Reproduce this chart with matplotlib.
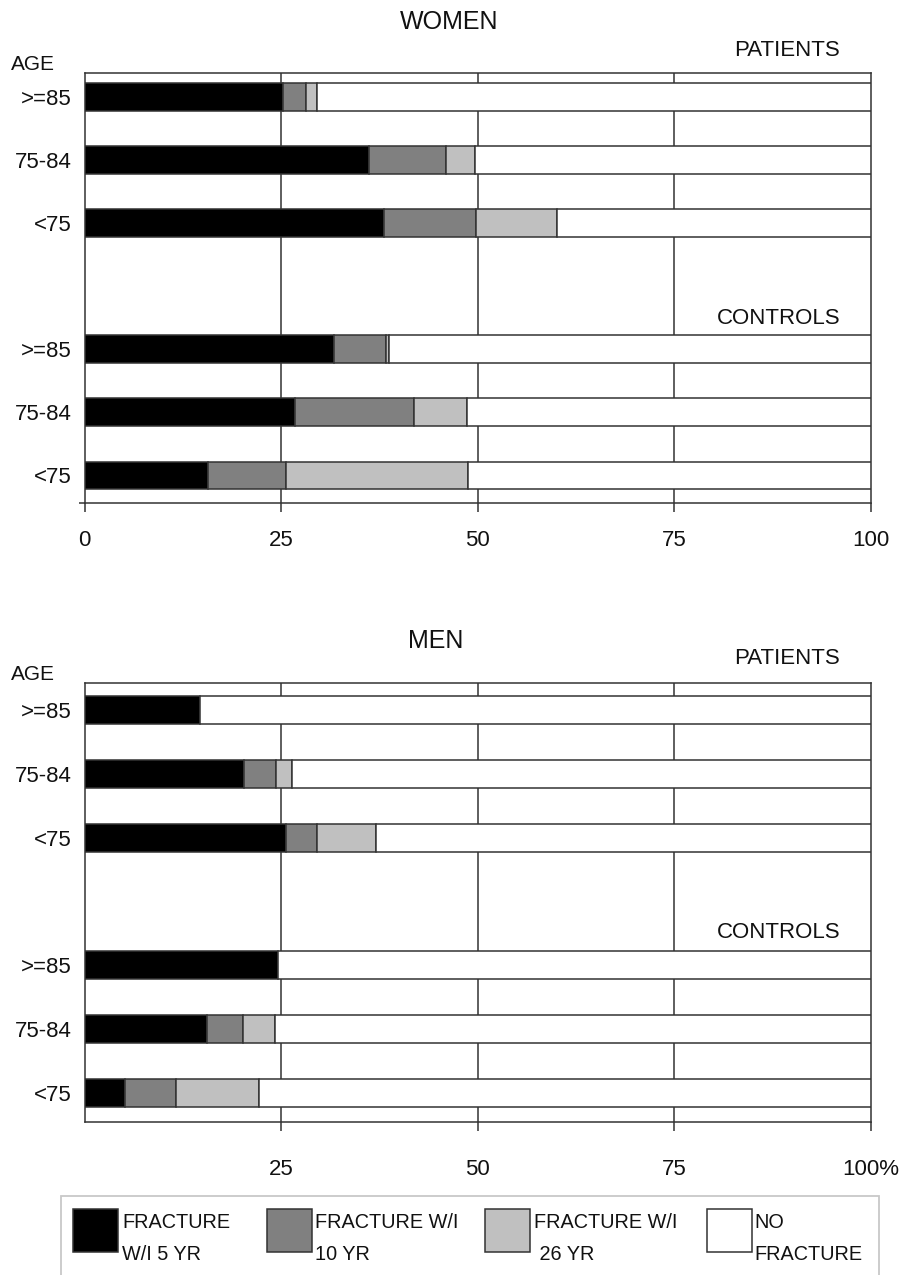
import matplotlib
matplotlib.use("Agg")
import matplotlib.pyplot as plt
from matplotlib.patches import Rectangle

# ---------------- data ----------------
age_groups = [">=85", "75-84", "<75"]
group_names = ["PATIENTS", "CONTROLS"]
series_labels = ["FRACTURE\nW/I 5 YR", "FRACTURE W/I\n10 YR", "FRACTURE W/I\n 26 YR", "NO\nFRACTURE"]
series_colors = ["#000000", "#808080", "#c0c0c0", "#ffffff"]

# order: patients >=85, 75-84, <75, controls >=85, 75-84, <75
women_5yr = [25.2, 36.2, 38.1, 31.7, 26.8, 15.7]
women_10yr = [3.0, 9.8, 11.7, 6.6, 15.1, 9.9]
women_26yr = [1.3, 3.6, 10.3, 0.4, 6.7, 23.2]

men_5yr = [14.7, 20.3, 25.6, 24.6, 15.6, 5.2]
men_10yr = [0.0, 4.0, 4.0, 0.0, 4.6, 6.4]
men_26yr = [0.0, 2.1, 7.4, 0.0, 4.0, 10.6]

women_ticks = [0, 25, 50, 75, 100]
women_ticklabels = ["0", "25", "50", "75", "100"]
men_ticks = [25, 50, 75, 100]
men_ticklabels = ["25", "50", "75", "100%"]

row_pos = [0, 1, 2, 4, 5, 6]

# ---------------- style ----------------
plt.rcParams['font.family'] = ['Liberation Sans', 'DejaVu Sans']
LINE = "#333333"
TXT = "#111111"
W, H = 913, 1275

fig = plt.figure(figsize=(W / 100, H / 100), dpi=100)


def fx(px):
    return px / W


def fy(py):
    return 1 - py / H


def make_axes(top, bottom, ylim):
    ax = fig.add_axes([fx(84.5), fy(bottom), fx(871) - fx(84.5), fy(top) - fy(bottom)])
    ax.set_xlim(0, 100)
    ax.set_ylim(*ylim)
    for s in ax.spines.values():
        s.set_color(LINE)
        s.set_linewidth(1.1)
    return ax


def draw(ax, s5, s10, s26):
    rows = list(zip(s5, s10, s26))
    for i, (a, b, c) in enumerate(rows):
        segs = [a, b, c, 100 - a - b - c]
        left = 0
        for v, col in zip(segs, series_colors):
            if v > 0:
                ax.barh(row_pos[i], v, left=left, height=0.44, color=col,
                        edgecolor=LINE, linewidth=1.1, zorder=3)
            left += v
    for v in [25, 50, 75]:
        ax.axvline(v, color=LINE, lw=1.1, zorder=1)
    ax.set_yticks(row_pos)
    ax.set_yticklabels(age_groups * 2)
    ax.tick_params(axis='y', length=0, pad=9.5, labelsize=16, labelcolor=TXT)


# Women
ax_w = make_axes(73, 503, (6.436, -0.375))
draw(ax_w, women_5yr, women_10yr, women_26yr)
ax_w.set_xticks(women_ticks)
ax_w.set_xticklabels(women_ticklabels)
ax_w.tick_params(axis='x', direction='out', length=6.5, width=1.1, color=LINE,
                 labelsize=16, labelcolor=TXT, pad=13)
ax_w.set_yticks([6.436], minor=True)
ax_w.tick_params(axis='y', which='minor', length=4, width=1.1, color=LINE)

# Men
ax_m = make_axes(683, 1122, (6.455, -0.423))
draw(ax_m, men_5yr, men_10yr, men_26yr)
ax_m.set_xticks(men_ticks)
ax_m.set_xticklabels(men_ticklabels)
ax_m.tick_params(axis='x', direction='out', length=6.5, width=1.1, color=LINE,
                 labelsize=16, labelcolor=TXT, pad=20)

# Titles and labels
fig.text(fx(449), fy(22), "WOMEN", ha='center', va='center', fontsize=18, color=TXT)
fig.text(fx(436), fy(641), "MEN", ha='center', va='center', fontsize=18, color=TXT)
fig.text(fx(11), fy(64), "AGE", ha='left', va='center', fontsize=15, color=TXT)
fig.text(fx(11), fy(674), "AGE", ha='left', va='center', fontsize=15, color=TXT)
fig.text(fx(840), fy(51), group_names[0], ha='right', va='center', fontsize=16, color=TXT)
fig.text(fx(840), fy(318.5), group_names[1], ha='right', va='center', fontsize=16, color=TXT)
fig.text(fx(840), fy(658), group_names[0], ha='right', va='center', fontsize=16, color=TXT)
fig.text(fx(840), fy(932), group_names[1], ha='right', va='center', fontsize=16, color=TXT)

# Legend (manual)
fig.add_artist(Rectangle((fx(61), fy(1290)), fx(879) - fx(61), fy(1196) - fy(1290),
                         transform=fig.transFigure, facecolor='none',
                         edgecolor='#c8c8c8', linewidth=1.3))
patch_x = [73, 267, 485, 707]
text_x = [122, 315, 534, 754]
for px, tx, col, lab in zip(patch_x, text_x, series_colors, series_labels):
    fig.add_artist(Rectangle((fx(px), fy(1252)), fx(px + 45) - fx(px), fy(1209) - fy(1252),
                             transform=fig.transFigure, facecolor=col,
                             edgecolor=LINE, linewidth=1.1))
    l1, l2 = lab.split("\n")
    fig.text(fx(tx), fy(1222), l1, ha='left', va='center', fontsize=14.3, color=TXT)
    fig.text(fx(tx), fy(1254), l2, ha='left', va='center', fontsize=14.3, color=TXT)

fig.savefig("out.png", dpi=100, facecolor='white')
